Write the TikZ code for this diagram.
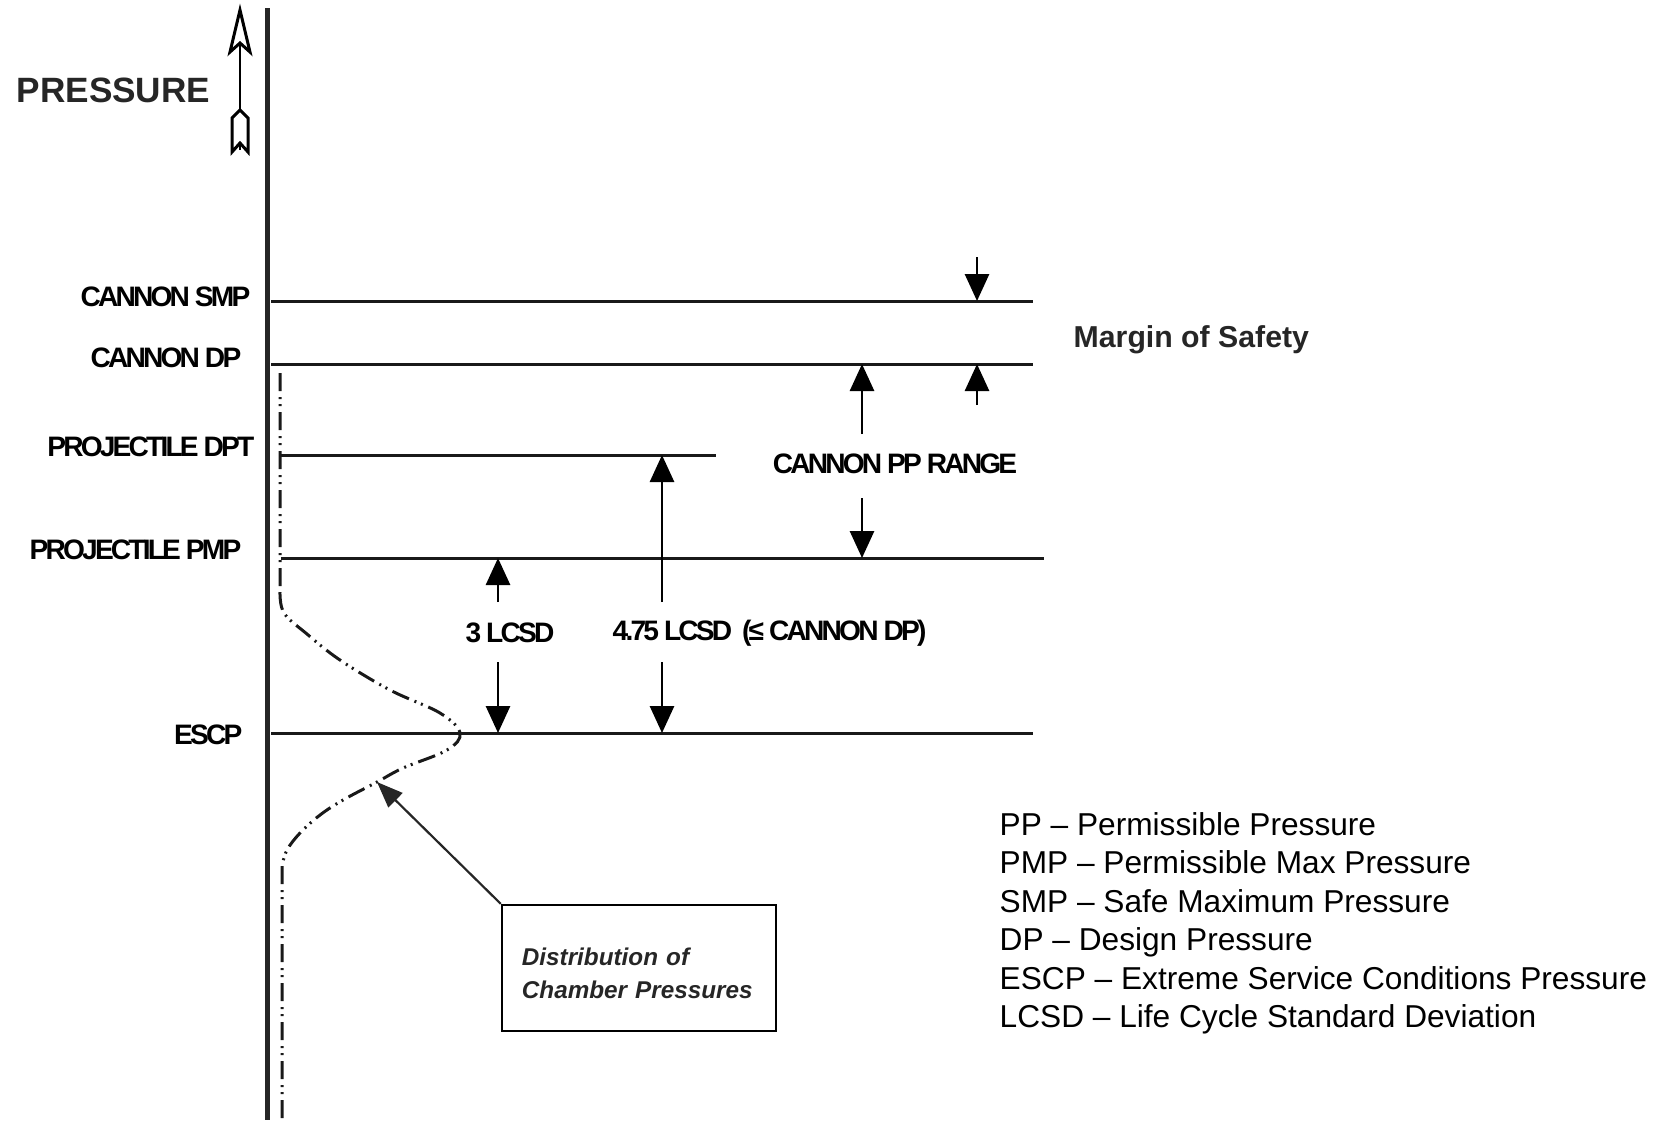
\documentclass[tikz,border=0pt]{standalone}
\usepackage{fontspec}
\setmainfont{Liberation Sans}
\newfontfamily\tightsans[LetterSpace=-10]{Liberation Sans}
\usetikzlibrary{arrows.meta,positioning}
\tikzset{
  levelline/.style={line width=0.03cm,draw=black!90},
  levellabel/.style={anchor=east,inner sep=0pt,font=\tightsans\bfseries\fontsize{8}{9.6}\selectfont},
  rangelabel/.style={inner sep=0pt,font=\tightsans\bfseries\fontsize{8}{9.6}\selectfont},
  rangearrow/.style={-{Triangle[length=0.27cm,width=0.24cm]},line width=0.028cm},
  chamberdist/.style={line width=0.03cm,draw=black!90,
    dash pattern=on 0.18cm off 0.06cm on 0.02cm off 0.05cm on 0.02cm off 0.06cm},
  distbox/.style={draw,line width=0.022cm,minimum width=2.74cm,minimum height=1.26cm,
    text width=2.34cm,align=left,text=black!85,
    font=\bfseries\itshape\fontsize{6.9}{9.4}\selectfont},
  pointer/.style={-{Triangle[length=0.26cm,width=0.2cm]},line width=0.022cm,draw=black!85},
  legendtext/.style={anchor=base west,inner sep=0pt,font=\fontsize{9}{10.8}\selectfont}
}

\begin{document}
\begin{tikzpicture}[x=0.01cm,y=-0.01cm]
  \useasboundingbox (0,0) rectangle (1674,1120);
  % pressure axis
  \coordinate (axisT) at (267,8);
  \coordinate (axisB) at (267,1120);
  \draw[line width=0.05cm,black!85] (axisT) -- (axisB);
  \node[anchor=west,inner sep=0pt,font=\bfseries\fontsize{10}{12}\selectfont,text=black!85] (press) at (16,90) {PRESSURE};
  \coordinate (pTip) at (240,10);
  \coordinate (pTail) at (240,150);
  \draw[line width=0.02cm] (pTail) -- (pTip);
  \draw[line width=0.03cm,fill=white] (pTip) -- ++(-10,42) -- ++(10,-9) -- ++(10,9) -- cycle;
  \draw[line width=0.03cm,fill=white] (240,110) -- ++(-8,8) -- ++(0,34) -- ++(8,-9) -- ++(8,9) -- ++(0,-34) -- cycle;
  % levels
  \coordinate (smpL) at (271,301);  \coordinate (smpR) at (1033,301);
  \coordinate (dpL) at (271,364);   \coordinate (dpR) at (1033,364);
  \coordinate (dptL) at (281,455);  \coordinate (dptR) at (716,455);
  \coordinate (pmpL) at (281,558);  \coordinate (pmpR) at (1044,558);
  \coordinate (escpL) at (271,733); \coordinate (escpR) at (1033,733);
  \draw[levelline] (smpL) -- (smpR);
  \draw[levelline] (dpL) -- (dpR);
  \draw[levelline] (dptL) -- (dptR);
  \draw[levelline] (pmpL) -- (pmpR);
  \draw[levelline] (escpL) -- (escpR);
  \node[levellabel] (smp) at (251,297) {CANNON SMP};
  \node[levellabel] (dp) at (242,358) {CANNON DP};
  \node[levellabel] (dpt) at (255,447) {PROJECTILE DPT};
  \node[levellabel] (pmp) at (242,550) {PROJECTILE PMP};
  \node[levellabel] (escp) at (243,735) {ESCP};
  % margin of safety
  \coordinate (msTop) at (977,257);
  \coordinate (msBot) at (977,405);
  \draw[rangearrow] (msTop) -- (msTop |- smpL);
  \draw[rangearrow] (msBot) -- (msBot |- dpL);
  \node[anchor=base west,inner sep=0pt,font=\bfseries\fontsize{8.6}{10}\selectfont,text=black!85] (safety) at (1073,347) {Margin of Safety};
  % cannon pp range
  \node[rangelabel] (pprange) at (895,464) {CANNON PP RANGE};
  \coordinate (ppUp) at (862,434);
  \coordinate (ppDn) at (862,498);
  \draw[rangearrow] (ppUp) -- (ppUp |- dpL);
  \draw[rangearrow] (ppDn) -- (ppDn |- pmpL);
  % lcsd spans
  \node[rangelabel] (lcsd3) at (510,633) {3 LCSD};
  \node[rangelabel,anchor=west] (lcsd475) at (612,633) {4.75 LCSD\ \ (≤ CANNON DP)};
  \coordinate (lcA) at (498,602);
  \coordinate (lcB) at (498,662);
  \coordinate (lcC) at (662,602);
  \coordinate (lcD) at (662,662);
  \draw[rangearrow] (lcA) -- (lcA |- pmpL);
  \draw[rangearrow] (lcB) -- (lcB |- escpL);
  \draw[rangearrow] (lcC) -- (lcC |- dptL);
  \draw[rangearrow] (lcD) -- (lcD |- escpL);
  % distribution of chamber pressures
  \draw[chamberdist] (280,373) -- (280,592)
    plot[smooth,tension=0.6] coordinates {(280,592) (284,613) (307,634) (340,660) (390,690) (440,713) (460,733)
      (447,750) (403,768) (377,782) (343,800) (320,815) (300,833) (287,850) (282,866)}
    -- (282,1120);
  \coordinate (distPt) at (377,782);
  \node[distbox] (dist) at (639,968) {\rule{0pt}{7.9pt}Distribution of\\Chamber Pressures};
  \draw[pointer] (dist.north west) -- (distPt);
  % legend
  \foreach \abbr/\desc [count=\i] in {PP/Permissible Pressure,PMP/Permissible Max Pressure,
      SMP/Safe Maximum Pressure,DP/Design Pressure,ESCP/Extreme Service Conditions Pressure,
      LCSD/Life Cycle Standard Deviation}
    \node[legendtext] (leg\i) at (999,{835.5+38.4*(\i-1)}) {\abbr{} – \desc};
\end{tikzpicture}
\end{document}
